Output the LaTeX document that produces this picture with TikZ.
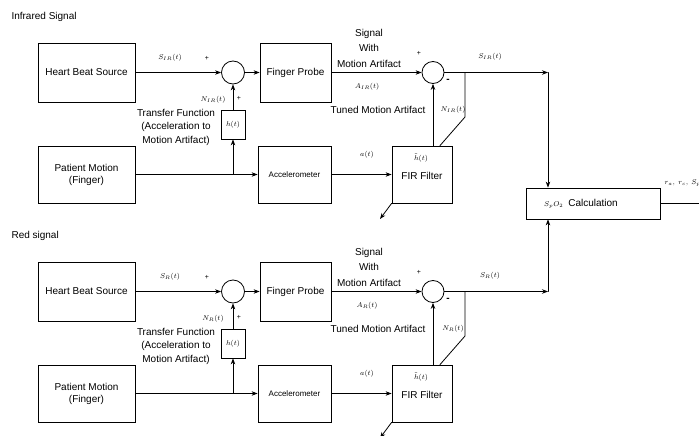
\documentclass[tikz,border=0pt]{standalone}
\usepackage{fontspec}
\setmainfont{Liberation Sans}
\usetikzlibrary{arrows.meta}

\begin{document}
\begin{tikzpicture}[x=1pt, y=-1pt, >={Stealth[length=6pt,width=4.5pt]}, line cap=round,
  blk/.style={draw, line width=0.8pt, inner sep=0pt, align=center, font=\fontsize{10}{12}\selectfont},
  sumc/.style={draw, circle, line width=0.8pt, inner sep=0pt, minimum size=23pt},
  lbl/.style={font=\fontsize{7}{8}\selectfont},
  txt/.style={font=\fontsize{10}{13.5}\selectfont, align=center},
  sig/.style={->, line width=0.8pt}]
\useasboundingbox (0,0) rectangle (699,436);
\foreach \oy/\sb/\ttl in {0/IR/Infrared Signal, 219/R/Red signal}{
  % 方框
  \node[txt, anchor=west] (ttl\sb) at (8,17+\oy) {\ttl};
  \node[blk, minimum width=97pt, minimum height=59pt] (hb\sb) at (86.5,72.5+\oy) {Heart Beat Source};
  \node[sumc] (sa\sb) at (233,72.5+\oy) {};
  \node[blk, minimum width=71pt, minimum height=59pt] (fp\sb) at (295.5,72.5+\oy) {Finger Probe};
  \node[blk, minimum width=24pt, minimum height=29pt, font=\fontsize{7}{8}\selectfont] (hf\sb) at (233,124.5+\oy) {$h(t)$};
  \node[blk, minimum width=97pt, minimum height=57pt] (pm\sb) at (86.5,174.5+\oy) {Patient Motion\\(Finger)};
  \node[blk, minimum width=73pt, minimum height=57pt, font=\fontsize{8}{10}\selectfont] (ac\sb) at (294.5,174.5+\oy) {Accelerometer};
  \node[sumc, minimum size=22pt] (sb\sb) at (433,72.5+\oy) {};
  \node[blk, minimum width=60pt, minimum height=57pt] (fi\sb) at (422,174.5+\oy) {};
  \node[lbl] (ht\sb) at (421,158+\oy) {$\tilde h(t)$};
  \node[txt] (ff\sb) at (422,176+\oy) {FIR Filter};
  \coordinate (jn\sb) at (233,174.5+\oy);
  \coordinate (br\sb) at (465,72.5+\oy);
  \coordinate (bk\sb) at (465,117+\oy);
  \coordinate (cn\sb) at (548,72.5+\oy);
  \coordinate (ot\sb) at (380,219+\oy);
  % 连线
  \draw[sig] (hb\sb) -- (sa\sb);
  \draw[sig] (sa\sb) -- (fp\sb);
  \draw[sig] (fp\sb) -- (sb\sb);
  \draw[sig] (pm\sb) -- (ac\sb);
  \draw[sig] (jn\sb) -- (hf\sb);
  \draw[sig] (hf\sb) -- (sa\sb);
  \draw[sig] (ac\sb) -- (fi\sb);
  \draw[sig] (fi\sb.north -| sb\sb) -- (sb\sb);
  \draw[sig] (sb\sb) -- (cn\sb);
  \draw[line width=0.8pt] (br\sb) -- (bk\sb) -- ([xshift=18pt]fi\sb.north);
  \draw[sig] (fi\sb.south west) -- (ot\sb);
  % 标注
  \node[lbl] (ls\sb) at (170,58+\oy) {$S_{\sb}(t)$};
  \node[lbl] (p1\sb) at (207,58+\oy) {+};
  \node[lbl] (p2\sb) at (239,98+\oy) {+};
  \node[lbl] (ln\sb) at (213,100+\oy) {$N_{\sb}(t)$};
  \node[txt] (tf\sb) at (176,127+\oy) {Transfer Function\\(Acceleration to\\Motion Artifact)};
  \node[txt, font=\fontsize{10}{15.5}\selectfont] (sw\sb) at (369,48+\oy) {Signal\\With\\Motion Artifact};
  \node[lbl] (la\sb) at (367,87+\oy) {$A_{\sb}(t)$};
  \node[txt] (tm\sb) at (378,110+\oy) {Tuned Motion Artifact};
  \node[lbl] (p3\sb) at (419,53+\oy) {+};
  \node[lbl, font=\fontsize{10}{10}\selectfont\bfseries] (mi\sb) at (448,81+\oy) {-};
  \node[lbl] (lm\sb) at (453,110+\oy) {$N_{\sb}(t)$};
  \node[lbl] (lo\sb) at (490,57+\oy) {$S_{\sb}(t)$};
  \node[lbl] (lc\sb) at (367,155+\oy) {$a(t)$};
}
% 计算
\node[blk, minimum width=134pt, minimum height=31pt] (calc) at (593,203.5) {{\fontsize{7}{8}\selectfont$S_pO_2$}\enspace Calculation\hspace*{24pt}};
\coordinate (edge) at (699,203.5);
\draw[sig] (cnIR) -- (calc.north -| cnIR);
\draw[sig] (cnR) -- (calc.south -| cnR);
\draw[line width=0.8pt] (calc) -- (edge);
\node[lbl, anchor=west] (res) at (661,183) {$r_a,\ r_c,\ S_pO_2$};
\end{tikzpicture}
\end{document}
